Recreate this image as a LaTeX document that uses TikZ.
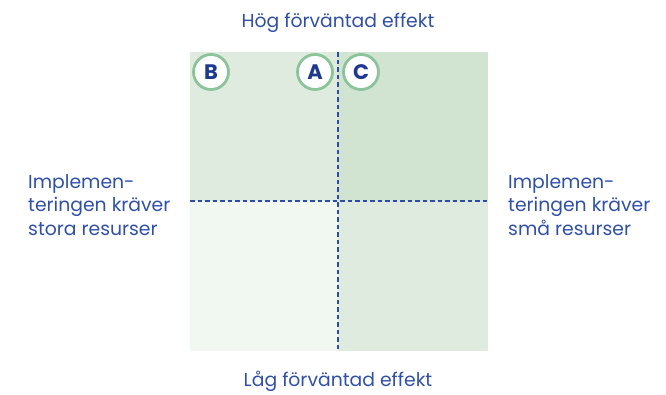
\documentclass[tikz,border=0pt]{standalone}
\usepackage{fontspec}
\setmainfont{Poppins}
\definecolor{txtblue}{HTML}{3050A8}
\definecolor{darkblue}{HTML}{1E3A8F}
\definecolor{dashblue}{HTML}{2D4BA8}
\definecolor{qa}{HTML}{E0EBE0}
\definecolor{qb}{HTML}{D1E4D2}
\definecolor{qc}{HTML}{F1F7F1}
\definecolor{ringgreen}{HTML}{8CC49A}
\tikzset{
  lbl/.style={text=txtblue, font=\fontsize{18.8}{23.5}\selectfont, inner sep=0pt},
  badge/.style={circle, draw=ringgreen, line width=2.8pt, fill=white, minimum size=35pt, inner sep=0pt, text=darkblue, font=\fontsize{21}{24}\selectfont\bfseries},
  divider/.style={draw=dashblue, line width=1.2pt, dash pattern=on 4.5pt off 3pt}
}
\begin{document}
\begin{tikzpicture}[x=1pt,y=-1pt]
\useasboundingbox (0,0) rectangle (666,394);
\fill[qa] (190,52) rectangle (338,201);
\fill[qb] (338,52) rectangle (488,201);
\fill[qc] (190,201) rectangle (338,351);
\fill[qa] (338,201) rectangle (488,351);
\coordinate (vt) at (338,52);
\coordinate (vb) at (338,351);
\coordinate (hl) at (190,201);
\coordinate (hr) at (488,201);
\draw[divider] (vt) -- (vb);
\draw[divider] (hl) -- (hr);
\node[badge] (B) at (211,72) {B};
\node[badge] (A) at (315,72) {A};
\node[badge] (C) at (361,72) {C};
\node[lbl, anchor=base] (top) at (338,27) {Hög förväntad effekt};
\node[lbl, anchor=base] (bottom) at (338,386.5) {Låg förväntad effekt};
\node[lbl, anchor=north west, align=left] (left) at (28,174) {Implemen-\\teringen kräver\\stora resurser};
\node[lbl, anchor=north west, align=left] (right) at (508,174) {Implemen-\\teringen kräver\\små resurser};
\end{tikzpicture}
\end{document}
